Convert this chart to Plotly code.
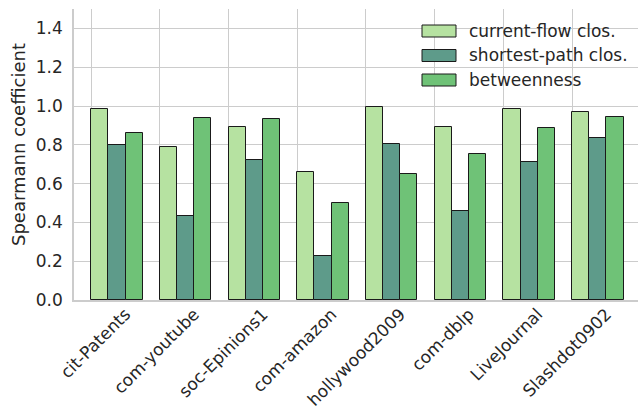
import plotly.graph_objects as go

# Datasets and Spearman rank correlations per centrality measure
datasets = ["cit-Patents", "com-youtube", "soc-Epinions1", "com-amazon",
            "hollywood2009", "com-dblp", "LiveJournal", "Slashdot0902"]
series_names = ["current-flow clos.", "shortest-path clos.", "betweenness"]
current_flow = [0.982, 0.787, 0.891, 0.658, 0.996, 0.890, 0.982, 0.967]
shortest_path = [0.797, 0.434, 0.723, 0.227, 0.802, 0.459, 0.713, 0.836]
betweenness = [0.859, 0.938, 0.934, 0.501, 0.649, 0.754, 0.886, 0.941]
y_ticks = [0.0, 0.2, 0.4, 0.6, 0.8, 1.0, 1.2, 1.4]

colors = ["#b6e2a1", "#5e9b8a", "#6fc277"]
series = [current_flow, shortest_path, betweenness]

W, H = 638, 410
L, R, T, B = 74, 0, 9, 110
plot_w = W - L - R
plot_h = H - T - B
text_color = "#262626"
grid_color = "#cccccc"
font_family = "DejaVu Sans"
fs = 17

bar_w = 0.25
x_min, x_max = -0.25, 7.96

fig = go.Figure()
idx = list(range(len(datasets)))
for k, (name, vals) in enumerate(zip(series_names, series)):
    fig.add_trace(go.Bar(
        x=[i + bar_w * k + bar_w / 2 for i in idx],
        y=vals,
        width=bar_w,
        name=name,
        marker=dict(color=colors[k], line=dict(color="#1a1a1a", width=1)),
        showlegend=False,
    ))

# invisible trace carrying the rotated category labels on the second x axis
fig.add_trace(go.Scatter(x=[i + 0.5 for i in idx], y=[0] * len(idx),
                         xaxis="x2", mode="markers",
                         marker=dict(opacity=0), showlegend=False,
                         hoverinfo="skip"))

fig.update_layout(
    width=W, height=H,
    margin=dict(l=L, r=R, t=T, b=B, pad=0),
    paper_bgcolor="white", plot_bgcolor="white",
    font=dict(family=font_family, color=text_color, size=fs),
    bargap=0, barmode="overlay",
    xaxis=dict(range=[x_min, x_max], tickvals=idx, ticktext=[""] * len(idx),
               showgrid=True, gridcolor=grid_color, gridwidth=1,
               zeroline=False, showline=True, linecolor=grid_color,
               linewidth=1.5, ticks=""),
    xaxis2=dict(range=[x_min, x_max], overlaying="x", anchor="y", side="bottom",
                tickvals=[i + 0.5 for i in idx], ticktext=datasets,
                tickangle=-45, showgrid=False, zeroline=False, showline=False,
                ticks="", tickfont=dict(size=fs, color=text_color)),
    yaxis=dict(range=[0, 1.5], tickvals=y_ticks,
               ticktext=[f"{v:.1f}" for v in y_ticks],
               showgrid=True, gridcolor=grid_color, gridwidth=1,
               zeroline=False, showline=True, linecolor=grid_color,
               linewidth=1.5, ticks="", ticklabelstandoff=6,
               tickfont=dict(size=fs, color=text_color)),
)

# y axis title
fig.add_annotation(text="Spearmann coefficient", textangle=-90,
                   xref="paper", yref="paper",
                   x=(18 - L) / plot_w, y=(300 - 145) / plot_h,
                   xanchor="center", yanchor="middle", showarrow=False,
                   font=dict(size=18, color=text_color, family=font_family))

# legend drawn as swatches + labels
def px_x(p):
    return (p - L) / plot_w


def px_y(p):
    return (T + plot_h - p) / plot_h


row_centers = [31, 55.5, 80]
for k, name in enumerate(series_names):
    cy = row_centers[k]
    fig.add_shape(type="rect", xref="paper", yref="paper",
                  x0=px_x(422), x1=px_x(456),
                  y0=px_y(cy + 6), y1=px_y(cy - 6),
                  fillcolor=colors[k], line=dict(color="#1a1a1a", width=1))
    fig.add_annotation(text=name, xref="paper", yref="paper",
                       x=px_x(467), y=px_y(cy), xanchor="left",
                       yanchor="middle", showarrow=False,
                       font=dict(size=fs, color=text_color, family=font_family))

fig.write_html("out.html")
